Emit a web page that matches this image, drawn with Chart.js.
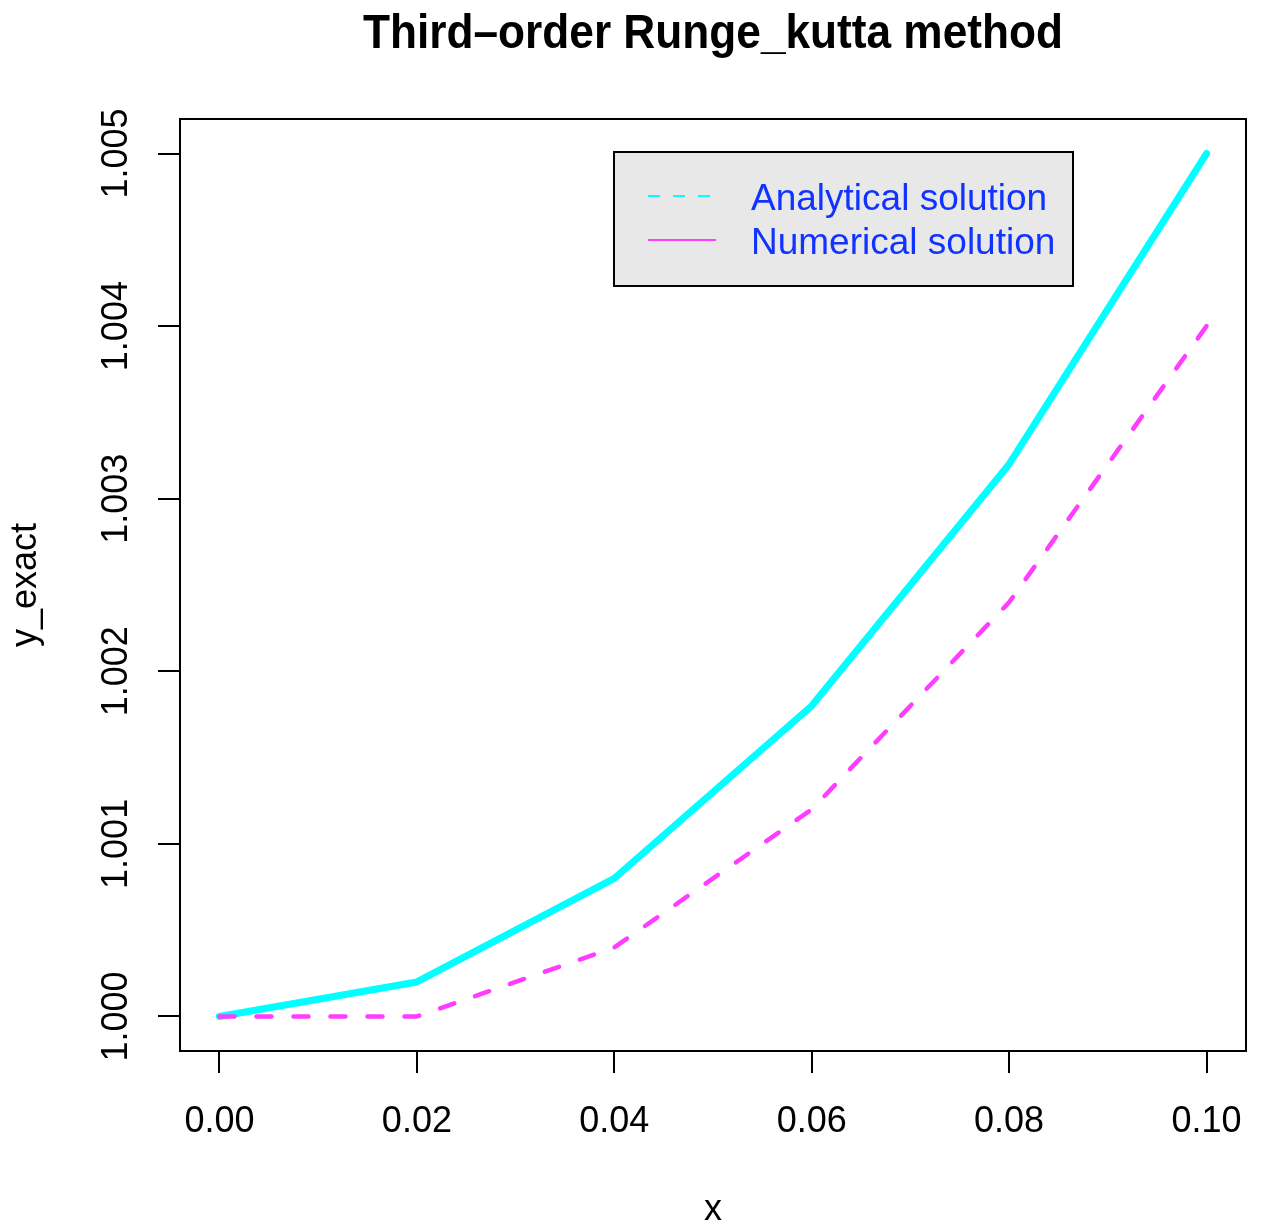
<!DOCTYPE html>
<html>
<head>
<meta charset="utf-8">
<title>Third-order Runge-Kutta</title>
<script src="https://cdn.jsdelivr.net/npm/chart.js@4/dist/chart.umd.min.js"></script>
<style>
html, body { margin: 0; padding: 0; background: #fff; }
canvas { display: block; }
</style>
</head>
<body>
<canvas id="rkChart" width="1261" height="1228"></canvas>
<script>
// step points and the two solutions
const xValues = [0, 0.02, 0.04, 0.06, 0.08, 0.10];
const yExact = [1.0000, 1.0002, 1.0008, 1.0018, 1.0032, 1.0050];
const yRK3 = [1.0000, 1.0000, 1.0004, 1.0012, 1.0024, 1.0040];
const xTicks = [0, 0.02, 0.04, 0.06, 0.08, 0.10];
const yTicks = [1.000, 1.001, 1.002, 1.003, 1.004, 1.005];
const legendLabels = ["Analytical solution", "Numerical solution"];

const FONT = '"Liberation Sans", Arial, Helvetica, sans-serif';
const CYAN = "#00ffff", MAGENTA = "#ff3cff", LEGEND_BLUE = "#1033ff";

// base-graphics look: frame, rotated y labels, title, boxed legend
const rBase = {
    id: "rBase",
    afterDraw(chart) {
        const ctx = chart.ctx, a = chart.chartArea;
        const xs = chart.scales.x, ys = chart.scales.y;
        const midX = (a.left + a.right) / 2, midY = (a.top + a.bottom) / 2;
        ctx.save();
        ctx.strokeStyle = "#000"; ctx.lineWidth = 2;
        ctx.strokeRect(a.left, a.top, a.right - a.left, a.bottom - a.top);

        ctx.fillStyle = "#000";
        ctx.font = "36px " + FONT;
        ctx.textAlign = "center"; ctx.textBaseline = "alphabetic";
        xs.ticks.forEach(t => ctx.fillText(t.value.toFixed(2), xs.getPixelForValue(t.value), 1132));
        ys.ticks.forEach(t => {
            ctx.save();
            ctx.translate(127, ys.getPixelForValue(t.value));
            ctx.rotate(-Math.PI / 2);
            ctx.fillText(t.value.toFixed(3), 0, 0);
            ctx.restore();
        });

        // axis titles
        ctx.fillText("x", midX, 1220);
        ctx.save();
        ctx.translate(36, midY); ctx.rotate(-Math.PI / 2);
        ctx.fillText("y_exact", 0, 0);
        ctx.restore();

        // main title, squeezed a little like Helvetica Bold
        ctx.font = "bold 48px " + FONT;
        const title = "Third\u2013order Runge_kutta method";
        const w = ctx.measureText(title).width;
        ctx.save();
        ctx.translate(midX, 48); ctx.scale(700 / w, 1);
        ctx.fillText(title, 0, 0);
        ctx.restore();

        // legend box
        ctx.fillStyle = "#e8e8e8";
        ctx.fillRect(614, 152, 459, 134);
        ctx.strokeRect(614, 152, 459, 134);
        ctx.lineWidth = 2;
        ctx.strokeStyle = CYAN; ctx.setLineDash([12, 13]);
        ctx.beginPath(); ctx.moveTo(648, 196); ctx.lineTo(712, 196); ctx.stroke();
        ctx.strokeStyle = MAGENTA; ctx.setLineDash([]);
        ctx.beginPath(); ctx.moveTo(648, 240); ctx.lineTo(716, 240); ctx.stroke();
        ctx.fillStyle = LEGEND_BLUE; ctx.font = "37px " + FONT; ctx.textAlign = "left";
        ctx.fillText(legendLabels[0], 751, 210);
        ctx.fillText(legendLabels[1], 751, 254);
        ctx.restore();
    }
};

const setTicks = list => scale => { scale.ticks = list.map(v => ({ value: v })); };

new Chart(document.getElementById("rkChart"), {
    type: "line",
    data: {
        datasets: [
            { label: legendLabels[1], data: xValues.map((x, i) => ({ x: x, y: yRK3[i] })),
              borderColor: MAGENTA, borderWidth: 4.5, borderDash: [15, 22], borderCapStyle: "round",
              pointRadius: 0, tension: 0, fill: false },
            { label: legendLabels[0], data: xValues.map((x, i) => ({ x: x, y: yExact[i] })),
              borderColor: CYAN, borderWidth: 7, borderCapStyle: "round", borderJoinStyle: "round",
              pointRadius: 0, tension: 0, fill: false }
        ]
    },
    options: {
        responsive: false, animation: false,
        layout: { padding: { top: 119, right: 15, left: 0, bottom: 0 } },
        plugins: { legend: { display: false }, title: { display: false }, tooltip: { enabled: false } },
        scales: {
            x: {
                type: "linear", min: -0.004, max: 0.104,
                afterBuildTicks: setTicks(xTicks),
                afterFit: s => { s.height = 177; },
                ticks: { display: false },
                grid: { drawOnChartArea: false, drawTicks: true, tickLength: 22, color: "#000", lineWidth: 2 },
                border: { display: false }
            },
            y: {
                type: "linear", min: 0.9998, max: 1.0052,
                afterBuildTicks: setTicks(yTicks),
                afterFit: s => { s.width = 180; },
                ticks: { display: false },
                grid: { drawOnChartArea: false, drawTicks: true, tickLength: 22, color: "#000", lineWidth: 2 },
                border: { display: false }
            }
        }
    },
    plugins: [rBase]
});
</script>
</body>
</html>
